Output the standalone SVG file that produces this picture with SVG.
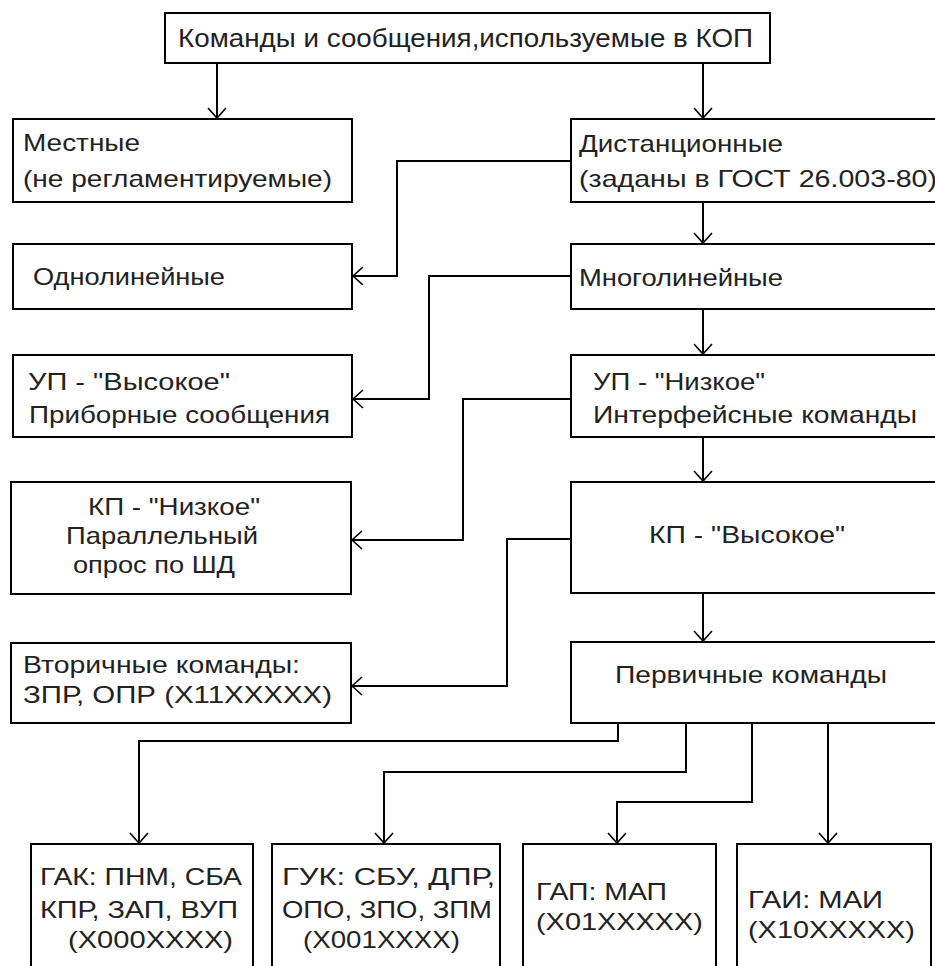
<svg xmlns="http://www.w3.org/2000/svg" width="935" height="966" viewBox="0 0 935 966">
  <style>
    .box { fill: #fff; stroke: #000; stroke-width: 2; }
    .lbl { font-family: "Liberation Sans", Arial, sans-serif; font-size: 24px; fill: #222; }
    .ttl { font-size: 26px; }
    .wire { fill: none; stroke: #000; stroke-width: 2; marker-end: url(#vee); }
  </style>
  <defs>
    <marker id="vee" viewBox="-12 -11 14 22" markerWidth="14" markerHeight="22" refX="0" refY="0" markerUnits="userSpaceOnUse" orient="auto">
      <path d="M-10,-9 L0,0 L-10,9" fill="none" stroke="#000" stroke-width="1.6"/>
    </marker>
  </defs>
  <rect width="935" height="966" fill="#fff"/>

  <g id="connectors">
    <path class="wire" d="M217,63 V118"/>
    <path class="wire" d="M703,63 V118"/>
    <path class="wire" d="M571,161 H397 V276 H353"/>
    <path class="wire" d="M703,202 V243"/>
    <path class="wire" d="M571,276 H429 V399 H353"/>
    <path class="wire" d="M703,309 V354"/>
    <path class="wire" d="M571,399 H463 V540 H352"/>
    <path class="wire" d="M703,437 V481"/>
    <path class="wire" d="M571,539 H507 V686 H352"/>
    <path class="wire" d="M703,593 V641"/>
    <path class="wire" d="M618,723 V741 H139 V843"/>
    <path class="wire" d="M686,723 V772 H384 V843"/>
    <path class="wire" d="M752,723 V802 H617 V843"/>
    <path class="wire" d="M828,723 V843"/>
  </g>

  <g id="root">
    <rect class="box" x="165" y="13" width="605" height="50"/>
    <text class="lbl ttl" x="178" y="47" textLength="575" lengthAdjust="spacingAndGlyphs">Команды и сообщения,используемые в КОП</text>
  </g>

  <g id="local">
    <rect class="box" x="13" y="119" width="339" height="83"/>
    <text class="lbl" x="23" y="151" textLength="117" lengthAdjust="spacingAndGlyphs">Местные</text>
    <text class="lbl" x="23" y="187" textLength="309" lengthAdjust="spacingAndGlyphs">(не регламентируемые)</text>
  </g>

  <g id="single-line">
    <rect class="box" x="13" y="244" width="339" height="65"/>
    <text class="lbl" x="33" y="285" textLength="192" lengthAdjust="spacingAndGlyphs">Однолинейные</text>
  </g>

  <g id="up-high">
    <rect class="box" x="13" y="355" width="339" height="82"/>
    <text class="lbl" x="28" y="390" textLength="202" lengthAdjust="spacingAndGlyphs">УП - "Высокое"</text>
    <text class="lbl" x="29" y="423" textLength="301" lengthAdjust="spacingAndGlyphs">Приборные сообщения</text>
  </g>

  <g id="kp-low">
    <rect class="box" x="11" y="482" width="340" height="112"/>
    <text class="lbl" x="88" y="515" textLength="172" lengthAdjust="spacingAndGlyphs">КП - "Низкое"</text>
    <text class="lbl" x="66" y="544" textLength="192" lengthAdjust="spacingAndGlyphs">Параллельный</text>
    <text class="lbl" x="73" y="573" textLength="162" lengthAdjust="spacingAndGlyphs">опрос по ШД</text>
  </g>

  <g id="secondary">
    <rect class="box" x="11" y="643" width="340" height="80"/>
    <text class="lbl" x="23" y="673" textLength="277" lengthAdjust="spacingAndGlyphs">Вторичные команды:</text>
    <text class="lbl" x="23" y="703" textLength="309" lengthAdjust="spacingAndGlyphs">ЗПР, ОПР (X11XXXXX)</text>
  </g>

  <g id="remote">
    <rect class="box" x="571" y="119" width="374" height="83"/>
    <text class="lbl" x="579" y="152" textLength="204" lengthAdjust="spacingAndGlyphs">Дистанционные</text>
    <text class="lbl" x="579" y="187" textLength="358" lengthAdjust="spacingAndGlyphs">(заданы в ГОСТ 26.003-80)</text>
  </g>

  <g id="multi-line">
    <rect class="box" x="571" y="244" width="374" height="65"/>
    <text class="lbl" x="579" y="286" textLength="204" lengthAdjust="spacingAndGlyphs">Многолинейные</text>
  </g>

  <g id="up-low">
    <rect class="box" x="571" y="355" width="374" height="82"/>
    <text class="lbl" x="593" y="390" textLength="172" lengthAdjust="spacingAndGlyphs">УП - "Низкое"</text>
    <text class="lbl" x="593" y="423" textLength="324" lengthAdjust="spacingAndGlyphs">Интерфейсные команды</text>
  </g>

  <g id="kp-high">
    <rect class="box" x="571" y="482" width="374" height="111"/>
    <text class="lbl" x="649" y="543" textLength="196" lengthAdjust="spacingAndGlyphs">КП - "Высокое"</text>
  </g>

  <g id="primary">
    <rect class="box" x="571" y="642" width="374" height="81"/>
    <text class="lbl" x="615" y="683" textLength="272" lengthAdjust="spacingAndGlyphs">Первичные команды</text>
  </g>

  <g id="gak">
    <rect class="box" x="31" y="844" width="222" height="140"/>
    <text class="lbl" x="40" y="885" textLength="202" lengthAdjust="spacingAndGlyphs">ГАК: ПНМ, СБА</text>
    <text class="lbl" x="40" y="918" textLength="198" lengthAdjust="spacingAndGlyphs">КПР, ЗАП, ВУП</text>
    <text class="lbl" x="68" y="948" textLength="165" lengthAdjust="spacingAndGlyphs">(X000XXXX)</text>
  </g>

  <g id="guk">
    <rect class="box" x="272" y="844" width="228" height="140"/>
    <text class="lbl" x="282" y="885" textLength="213" lengthAdjust="spacingAndGlyphs">ГУК: СБУ, ДПР,</text>
    <text class="lbl" x="282" y="918" textLength="210" lengthAdjust="spacingAndGlyphs">ОПО, ЗПО, ЗПМ</text>
    <text class="lbl" x="303" y="948" textLength="157" lengthAdjust="spacingAndGlyphs">(X001XXXX)</text>
  </g>

  <g id="gap">
    <rect class="box" x="523" y="844" width="193" height="140"/>
    <text class="lbl" x="536" y="900" textLength="131" lengthAdjust="spacingAndGlyphs">ГАП: МАП</text>
    <text class="lbl" x="536" y="930" textLength="167" lengthAdjust="spacingAndGlyphs">(X01XXXXX)</text>
  </g>

  <g id="gai">
    <rect class="box" x="737" y="844" width="194" height="140"/>
    <text class="lbl" x="748" y="908" textLength="135" lengthAdjust="spacingAndGlyphs">ГАИ: МАИ</text>
    <text class="lbl" x="748" y="938" textLength="167" lengthAdjust="spacingAndGlyphs">(X10XXXXX)</text>
  </g>
</svg>
